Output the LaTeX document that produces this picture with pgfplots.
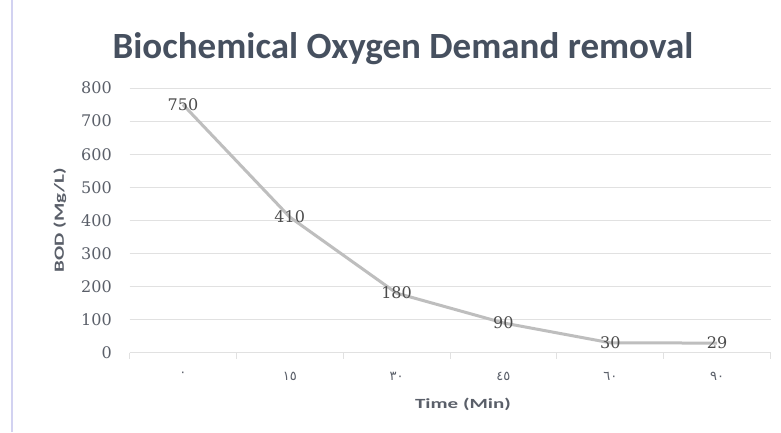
\documentclass[border=0pt]{standalone}
\usepackage{pgfplots}
\pgfplotsset{compat=1.18}
\usepackage{fontspec}
\setmainfont{DejaVu Serif}
\newfontfamily\titlefont{Carlito}
\newfontfamily\labelfont[FakeStretch=1.5]{Carlito}
\newfontfamily\arabicfont[Script=Arabic]{DejaVu Sans}
\definecolor{titlec}{RGB}{70,80,95}
\definecolor{tickc}{RGB}{90,95,105}
\definecolor{gridc}{RGB}{225,225,225}
\definecolor{linec}{RGB}{190,190,190}
\begin{document}
\begin{tikzpicture}
\path[use as bounding box, fill=white] (0,0) rectangle (781pt,432pt);
\draw[color=gridc!80!blue!60!white, line width=1.5pt] (12pt,0) -- (12pt,432pt);
\begin{axis}[
  at={(129.5pt,79.3pt)}, anchor=south west,
  scale only axis, width=641pt, height=264.7pt,
  xmin=-0.5, xmax=5.5, ymin=0, ymax=800,
  xtick={0,...,5},
  xticklabels={٠,١٥,٣٠,٤٥,٦٠,٩٠},
  x tick label style={font=\arabicfont\fontsize{13}{15}\selectfont, text=tickc, yshift=-12pt},
  major x tick style={draw=none},
  minor xtick={-0.5,0.5,...,5.5},
  minor x tick style={draw=gridc, line width=1pt},
  minor tick length=6pt,
  tick align=outside,
  ytick={0,100,...,800},
  /pgf/number format/assume math mode=true,
  y tick label style={font=\fontsize{16}{18}\selectfont, text=tickc, xshift=-10pt},
  major y tick style={draw=none},
  ymajorgrids, grid style={draw=gridc, line width=0.8pt},
  axis x line*=bottom, axis y line*=left,
  x axis line style={draw=gridc, line width=1pt, -},
  y axis line style={draw=none},
  xlabel={Time (Min)},
  xlabel style={font=\labelfont\bfseries\fontsize{14}{16}\selectfont, text=tickc, xshift=13pt, yshift=-10pt},
  ylabel={BOD (Mg/L)},
  ylabel style={font=\labelfont\bfseries\fontsize{14}{16}\selectfont, text=tickc, yshift=8pt},
  title={Biochemical Oxygen Demand removal},
  title style={font=\titlefont\bfseries\fontsize{37}{40}\selectfont, text=titlec, at={(0.5,1)}, anchor=south, xshift=-47pt, yshift=14pt},
  nodes near coords,
  every node near coord/.append style={anchor=center, font=\fontsize{16}{18}\selectfont, text=black!70},
  point meta=explicit symbolic,
  clip=false,
]
\addplot[color=linec, line width=3pt, mark=none] coordinates {
  (0,750) [750] (1,410) [410] (2,180) [180] (3,90) [90] (4,30) [30] (5,29) [29]
};
\end{axis}
\end{tikzpicture}
\end{document}
